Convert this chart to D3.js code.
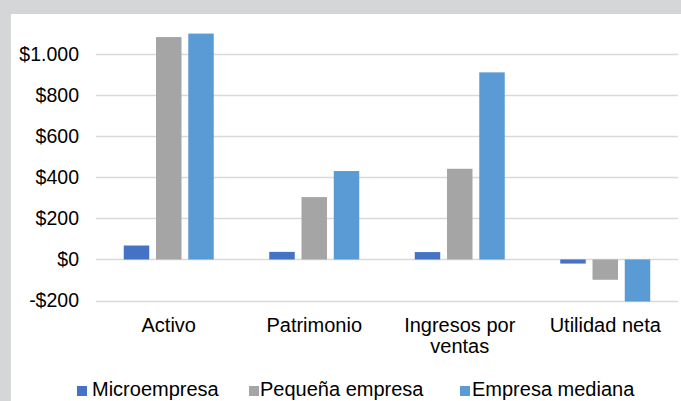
<!DOCTYPE html>
<html><head><meta charset="utf-8">
<script src="https://cdn.jsdelivr.net/npm/d3@7"></script>
<style>
html,body{margin:0;padding:0;background:#d5d6d8;}
svg{display:block;}
text{font-family:"Liberation Sans",Arial,Helvetica,sans-serif;fill:#000;}
</style></head>
<body>
<svg id="chart" width="681" height="401"></svg>
<script>
const categories = ["Activo", "Patrimonio", "Ingresos por ventas", "Utilidad neta"];
const categoryLines = [["Activo"], ["Patrimonio"], ["Ingresos por", "ventas"], ["Utilidad neta"]];
const seriesNames = ["Microempresa", "Pequeña empresa", "Empresa mediana"];
const microValues = [68, 37, 36, -20];
const pequenaValues = [1084, 304, 442, -99];
const medianaValues = [1101, 431, 912, -205];
const tickValues = [-200, 0, 200, 400, 600, 800, 1000];
const colors = ["#4472C4", "#A5A5A5", "#5B9BD5"];

const seriesValues = [microValues, pequenaValues, medianaValues];

const svg = d3.select("#chart");
svg.append("rect").attr("x", 11).attr("y", 14).attr("width", 670).attr("height", 387).attr("fill", "#fff");

const locale = d3.formatLocale({decimal: ",", thousands: ".", grouping: [3], currency: ["$", ""], minus: "-"});
const fmt = locale.format("$,");

const y = d3.scaleLinear().domain([-200, 1000]).range([300.5, 54.3]);
const x = d3.scaleBand().domain(categories).range([96, 678]).paddingInner(0).paddingOuter(0);
const groupW = 90;
const xs = d3.scaleBand().domain(seriesNames).range([0, groupW]).paddingInner(0.21).paddingOuter(0);

// gridlines
svg.append("g").selectAll("line").data(tickValues).join("line")
  .attr("x1", 96).attr("x2", 678)
  .attr("y1", d => Math.round(y(d)) + 0.5).attr("y2", d => Math.round(y(d)) + 0.5)
  .attr("stroke", "#d9d9d9").attr("stroke-width", 1.5);

// y axis labels
const yAxis = d3.axisLeft(y).tickValues(tickValues).tickFormat(fmt).tickSize(0).tickPadding(0);
const gy = svg.append("g").attr("transform", "translate(79,0)").call(yAxis);
gy.select(".domain").remove();
gy.selectAll("text").attr("font-size", "19.5px").attr("fill", "#000")
  .attr("font-family", "'Liberation Sans', Arial, sans-serif");

// bars
seriesNames.forEach((s, si) => {
  svg.append("g").selectAll("rect").data(categories.map((c, ci) => ({c, v: seriesValues[si][ci]}))).join("rect")
    .attr("x", d => x(d.c) + (x.bandwidth() - groupW) / 2 + xs(s))
    .attr("width", xs.bandwidth())
    .attr("y", d => Math.min(y(d.v), y(0)))
    .attr("height", d => Math.abs(y(d.v) - y(0)))
    .attr("fill", colors[si]);
});

// category labels
const cl = svg.append("g");
categories.forEach((c, ci) => {
  const t = cl.append("text").attr("text-anchor", "middle").attr("font-size", "20px")
    .attr("x", x(c) + x.bandwidth() / 2).attr("y", 331.5);
  categoryLines[ci].forEach((ln, li) => {
    t.append("tspan").attr("x", x(c) + x.bandwidth() / 2).attr("dy", li === 0 ? 0 : 21.5).text(ln);
  });
});

// legend
const legendX = [77, 249, 460];
const legendTextX = [92, 260, 472];
const lg = svg.append("g");
seriesNames.forEach((s, i) => {
  lg.append("rect").attr("x", legendX[i]).attr("y", 386).attr("width", 10).attr("height", 10).attr("fill", colors[i]);
  lg.append("text").attr("x", legendTextX[i]).attr("y", 396).attr("font-size", "20px").text(s);
});
</script>
</body></html>
